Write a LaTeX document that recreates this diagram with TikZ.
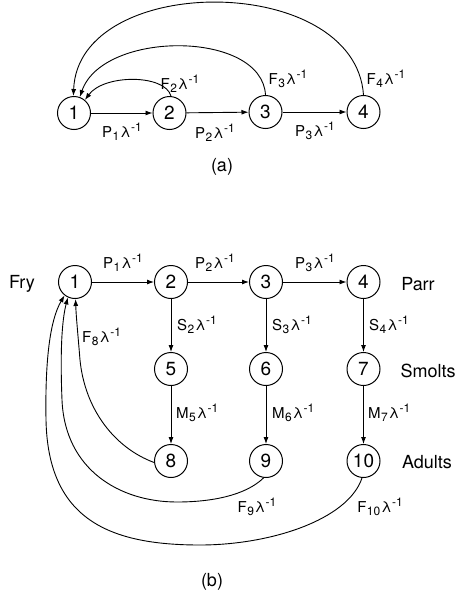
\documentclass[tikz,border=0pt]{standalone}
\usepackage{fontspec}
\setmainfont{TeX Gyre Heros}
\usetikzlibrary{arrows.meta}
\newcommand{\rt}[2]{#1\kern0.5pt\raisebox{-3.5pt}{\fontsize{12}{12}\selectfont #2}\kern1pt λ\kern0.5pt\raisebox{5.5pt}{\fontsize{12}{12}\selectfont -1}}
\begin{document}
\begin{tikzpicture}[x=1pt,y=-1pt,
  st/.style={circle,draw,line width=1pt,minimum size=33pt,inner sep=0pt,font=\fontsize{19}{19}\selectfont},
  lbl/.style={font=\fontsize{15}{15}\selectfont,inner sep=0pt},
  nm/.style={font=\fontsize{18}{18}\selectfont,inner sep=0pt},
  con/.style={line width=0.9pt,-{Latex[length=7pt,width=5pt]}}]
\useasboundingbox (0,0) rectangle (463,592);
% ---------- (a)
\node[st] (a1) at (74,113) {1};
\node[st] (a2) at (169.5,113) {2};
\node[st] (a3) at (265.5,112) {3};
\node[st] (a4) at (363.5,112) {4};
\draw[con] (a1) -- (a2);
\draw[con] (a2) -- (a3);
\draw[con] (a3) -- (a4);
\draw[con] (a2.85) .. controls (165,74) and (104,74) .. (a1.50);
\draw[con] (a3.90) .. controls (262,30) and (103,30) .. (a1.70);
\draw[con] (a4.90) .. controls (355,-28) and (78,-28) .. (a1.92);
\node[lbl] (la1) at (122,132) {\rt{P}{1}};
\node[lbl] (la2) at (215,133) {\rt{P}{2}};
\node[lbl] (la3) at (315,131) {\rt{P}{3}};
\node[lbl] (lf2) at (180,84) {\rt{F}{2}};
\node[lbl] (lf3) at (288,79) {\rt{F}{3}};
\node[lbl] (lf4) at (386,79) {\rt{F}{4}};
\node[nm] (capa) at (222,167) {(a)};
% ---------- (b)
\node[st] (b1) at (75,282) {1};
\node[st] (b2) at (171,282) {2};
\node[st] (b3) at (266,282) {3};
\node[st] (b4) at (363.5,282) {4};
\node[st] (b5) at (171,369) {5};
\node[st] (b6) at (266,369) {6};
\node[st] (b7) at (363.5,369) {7};
\node[st] (b8) at (171,461) {8};
\node[st] (b9) at (266,461) {9};
\node[st] (b10) at (363.5,461) {10};
\draw[con] (b1) -- (b2);
\draw[con] (b2) -- (b3);
\draw[con] (b3) -- (b4);
\draw[con] (b2) -- (b5);
\draw[con] (b3) -- (b6);
\draw[con] (b4) -- (b7);
\draw[con] (b5) -- (b8);
\draw[con] (b6) -- (b9);
\draw[con] (b7) -- (b10);
\draw[con] (b8.185) .. controls (115,448) and (85,410) .. (80,360)
  .. controls (78,335) and (76,315) .. (b1.272);
\draw[con] (b9.262) .. controls (245,496) and (210,502) .. (177,502)
  .. controls (120,502) and (65,470) .. (62,400)
  .. controls (60,350) and (62,320) .. (b1.245);
\draw[con] (b10.265) .. controls (348,520) and (270,545) .. (200,545)
  .. controls (110,545) and (48,520) .. (46,420)
  .. controls (45,360) and (50,320) .. (b1.232);
\node[lbl] (lp1) at (123,263) {\rt{P}{1}};
\node[lbl] (lp2) at (215,263) {\rt{P}{2}};
\node[lbl] (lp3) at (315,263) {\rt{P}{3}};
\node[lbl,anchor=west] (ls2) at (177,325) {\rt{S}{2}};
\node[lbl,anchor=west] (ls3) at (272,325) {\rt{S}{3}};
\node[lbl,anchor=west] (ls4) at (369,325) {\rt{S}{4}};
\node[lbl,anchor=west] (lm5) at (176,413) {\rt{M}{5}};
\node[lbl,anchor=west] (lm6) at (272,413) {\rt{M}{6}};
\node[lbl,anchor=west] (lm7) at (368,413) {\rt{M}{7}};
\node[lbl,anchor=west] (lf8) at (82,337) {\rt{F}{8}};
\node[lbl] (lf9) at (257,507) {\rt{F}{9}};
\node[lbl] (lf10) at (380,507) {\rt{F}{10}};
\node[nm] (fry) at (22,284) {Fry};
\node[nm] (parr) at (418,284) {Parr};
\node[nm] (smolts) at (428,371) {Smolts};
\node[nm] (adults) at (427,462) {Adults};
\node[nm] (capb) at (212,582) {(b)};
\end{tikzpicture}
\end{document}
